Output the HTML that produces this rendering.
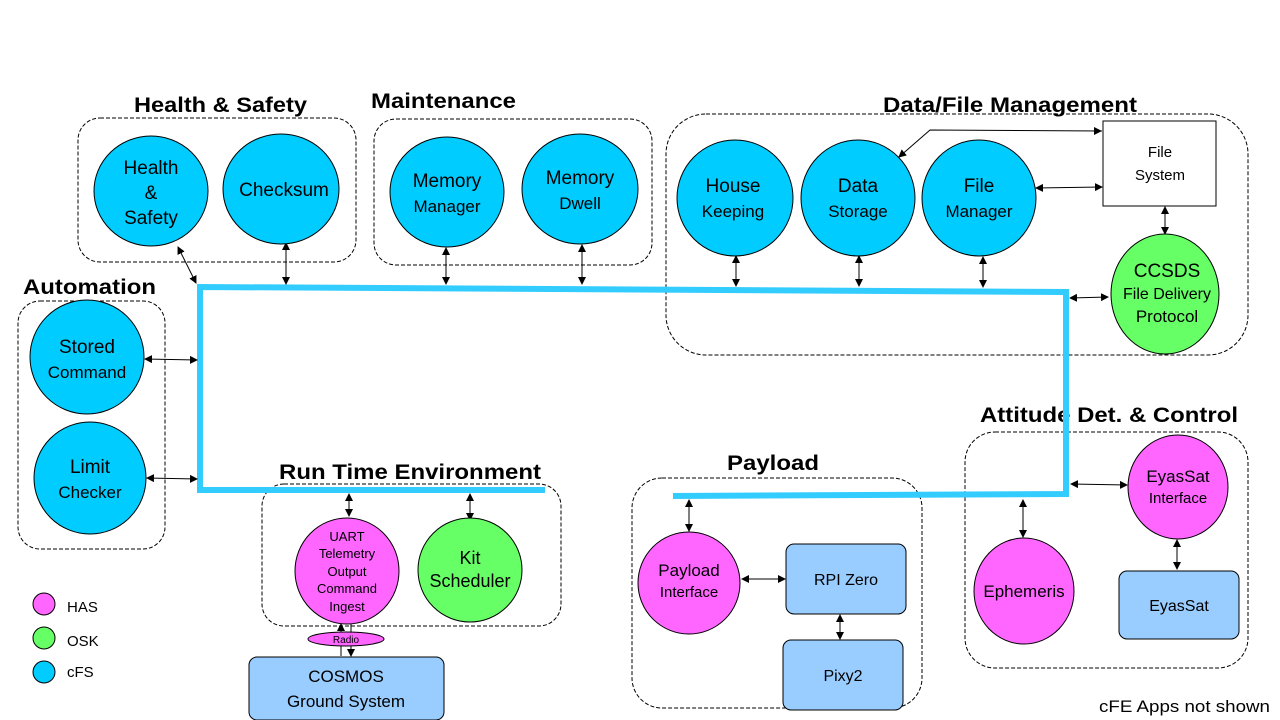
<!DOCTYPE html>
<html><head><style>body{margin:0;background:#fff}svg{display:block}text{font-family:"Liberation Sans",sans-serif}</style></head><body>
<svg width="1280" height="720" viewBox="0 0 1280 720" xmlns="http://www.w3.org/2000/svg">
<defs><marker id="a" markerWidth="8" markerHeight="8" refX="7" refY="4" orient="auto-start-reverse" markerUnits="userSpaceOnUse"><path d="M0,0 L8,4 L0,8z" fill="#000"/></marker></defs>
<g fill="none" stroke="#000" stroke-dasharray="4,2" stroke-width="1">
<rect x="78" y="118" width="278" height="144" rx="22"/>
<rect x="374" y="119" width="278" height="146" rx="22"/>
<rect x="666" y="114" width="582" height="241" rx="40"/>
<rect x="18" y="301" width="147" height="248" rx="22"/>
<rect x="262" y="484" width="299" height="142" rx="22"/>
<rect x="632" y="478" width="290" height="230" rx="30"/>
<rect x="965" y="432" width="283" height="236" rx="30"/>
</g>
<g font-weight="bold" font-size="21" fill="#000" lengthAdjust="spacingAndGlyphs">
<text x="134" y="112" textLength="173" lengthAdjust="spacingAndGlyphs">Health &amp; Safety</text>
<text x="371" y="108" textLength="145" lengthAdjust="spacingAndGlyphs">Maintenance</text>
<text x="883" y="112" textLength="254" lengthAdjust="spacingAndGlyphs">Data/File Management</text>
<text x="23" y="294" textLength="133" lengthAdjust="spacingAndGlyphs">Automation</text>
<text x="279" y="479" textLength="262" lengthAdjust="spacingAndGlyphs">Run Time Environment</text>
<text x="727" y="470" textLength="92" lengthAdjust="spacingAndGlyphs">Payload</text>
<text x="980" y="422" textLength="258" lengthAdjust="spacingAndGlyphs">Attitude Det. &amp; Control</text>
</g>
<g fill="none" stroke="#33ccff" stroke-width="6">
<path d="M545,490 L200,490 L200,287 L1066,292 L1066,494 L673,496"/>
</g>
<g stroke="#000" stroke-width="1" marker-start="url(#a)" marker-end="url(#a)">
<line x1="178" y1="247" x2="196" y2="283"/>
<line x1="286" y1="243" x2="286" y2="284"/>
<line x1="446" y1="248" x2="446" y2="284"/>
<line x1="582" y1="245" x2="582" y2="284"/>
<line x1="736" y1="256" x2="736" y2="286"/>
<line x1="859" y1="256" x2="859" y2="286"/>
<line x1="983" y1="257" x2="983" y2="287"/>
<line x1="1070" y1="298" x2="1108" y2="297"/>
<line x1="1036" y1="188" x2="1102" y2="187"/>
<line x1="1165" y1="207" x2="1165" y2="234"/>
<line x1="145" y1="359" x2="197" y2="360"/>
<line x1="147" y1="478" x2="197" y2="479"/>
<line x1="349" y1="494" x2="349" y2="516"/>
<line x1="470" y1="494" x2="470" y2="520"/>
<line x1="689" y1="500" x2="689" y2="531"/>
<line x1="742" y1="579" x2="785" y2="579"/>
<line x1="840" y1="615" x2="840" y2="639"/>
<line x1="1071" y1="484" x2="1127" y2="485"/>
<line x1="1023" y1="500" x2="1023" y2="537"/>
<line x1="1177" y1="540" x2="1177" y2="569"/>
</g>
<g stroke="#000" stroke-width="1" fill="none">
<polyline points="1102,131 930,130 899,157" marker-end="url(#a)"/>
<line x1="1095" y1="131" x2="1101" y2="131" marker-end="url(#a)"/>
<line x1="341" y1="656" x2="341" y2="624" marker-end="url(#a)"/>
<line x1="351" y1="624" x2="351" y2="656" marker-end="url(#a)"/>
</g>
<g stroke="#000" stroke-width="1">
<ellipse cx="151" cy="191" rx="57" ry="55" fill="#00ccff"/>
<ellipse cx="281" cy="189" rx="58" ry="55" fill="#00ccff"/>
<ellipse cx="447" cy="192" rx="57" ry="55" fill="#00ccff"/>
<ellipse cx="580" cy="189" rx="58" ry="55" fill="#00ccff"/>
<ellipse cx="735" cy="198" rx="58" ry="58" fill="#00ccff"/>
<ellipse cx="858" cy="198" rx="57" ry="58" fill="#00ccff"/>
<ellipse cx="979" cy="198" rx="57" ry="58" fill="#00ccff"/>
<ellipse cx="1165" cy="294" rx="54" ry="60" fill="#66ff66"/>
<ellipse cx="87" cy="357" rx="57" ry="57" fill="#00ccff"/>
<ellipse cx="90" cy="478" rx="56" ry="56" fill="#00ccff"/>
<ellipse cx="347" cy="571" rx="52" ry="53" fill="#ff66ff"/>
<ellipse cx="470" cy="570" rx="52" ry="52" fill="#66ff66"/>
<ellipse cx="689" cy="583" rx="51" ry="51" fill="#ff66ff"/>
<ellipse cx="1024" cy="591" rx="50" ry="53" fill="#ff66ff"/>
<ellipse cx="1178" cy="487" rx="50" ry="52" fill="#ff66ff"/>
<ellipse cx="346" cy="639" rx="38" ry="7" fill="#ff66ff"/>
<rect x="1103" y="121" width="113" height="85" fill="#fff"/>
<rect x="786" y="544" width="120" height="70" rx="8" fill="#99ccff"/>
<rect x="783" y="640" width="120" height="70" rx="8" fill="#99ccff"/>
<rect x="1119" y="571" width="120" height="68" rx="8" fill="#99ccff"/>
<rect x="249" y="657" width="195" height="63" rx="8" fill="#99ccff"/>
<circle cx="44" cy="604" r="11" fill="#ff66ff"/>
<circle cx="44" cy="638" r="11" fill="#66ff66"/>
<circle cx="44" cy="672" r="11" fill="#00ccff"/>
</g>
<g font-size="19" fill="#000" text-anchor="middle">
<text x="151" y="174">Health</text><text x="151" y="199">&amp;</text><text x="151" y="224">Safety</text>
<text x="284" y="196">Checksum</text>
<text x="447" y="187">Memory</text><text x="447" y="212" font-size="17">Manager</text>
<text x="580" y="184">Memory</text><text x="580" y="209" font-size="17">Dwell</text>
<text x="733" y="192">House</text><text x="733" y="217" font-size="17">Keeping</text>
<text x="858" y="192">Data</text><text x="858" y="217" font-size="17">Storage</text>
<text x="979" y="192">File</text><text x="979" y="217" font-size="17">Manager</text>
<text x="1167" y="277">CCSDS</text><text x="1167" y="299" font-size="16">File Delivery</text><text x="1167" y="322" font-size="17">Protocol</text>
<text x="1160" y="157" font-size="15">File</text><text x="1160" y="180" font-size="15">System</text>
<text x="87" y="353">Stored</text><text x="87" y="378" font-size="17">Command</text>
<text x="90" y="473">Limit</text><text x="90" y="498" font-size="17">Checker</text>
<g font-size="13"><text x="347" y="541">UART</text><text x="347" y="558">Telemetry</text><text x="347" y="576">Output</text><text x="347" y="593">Command</text><text x="347" y="611">Ingest</text></g>
<text x="470" y="564" font-size="18">Kit</text><text x="470" y="587" font-size="18">Scheduler</text>
<text x="346" y="643" font-size="10">Radio</text>
<text x="346" y="682" font-size="17">COSMOS</text><text x="346" y="707" font-size="17">Ground System</text>
<text x="689" y="576" font-size="17">Payload</text><text x="689" y="597" font-size="15">Interface</text>
<text x="846" y="585" font-size="16">RPI Zero</text>
<text x="843" y="681" font-size="16">Pixy2</text>
<text x="1024" y="597" font-size="17">Ephemeris</text>
<text x="1178" y="482" font-size="17">EyasSat</text><text x="1178" y="503" font-size="15">Interface</text>
<text x="1179" y="611" font-size="16">EyasSat</text>
</g>
<g font-size="15" fill="#000">
<text x="67" y="612">HAS</text><text x="67" y="646">OSK</text><text x="67" y="677">cFS</text>
<text x="1099" y="712" font-size="17" textLength="171" lengthAdjust="spacingAndGlyphs">cFE Apps not shown</text>
</g>
</svg>
</body></html>
